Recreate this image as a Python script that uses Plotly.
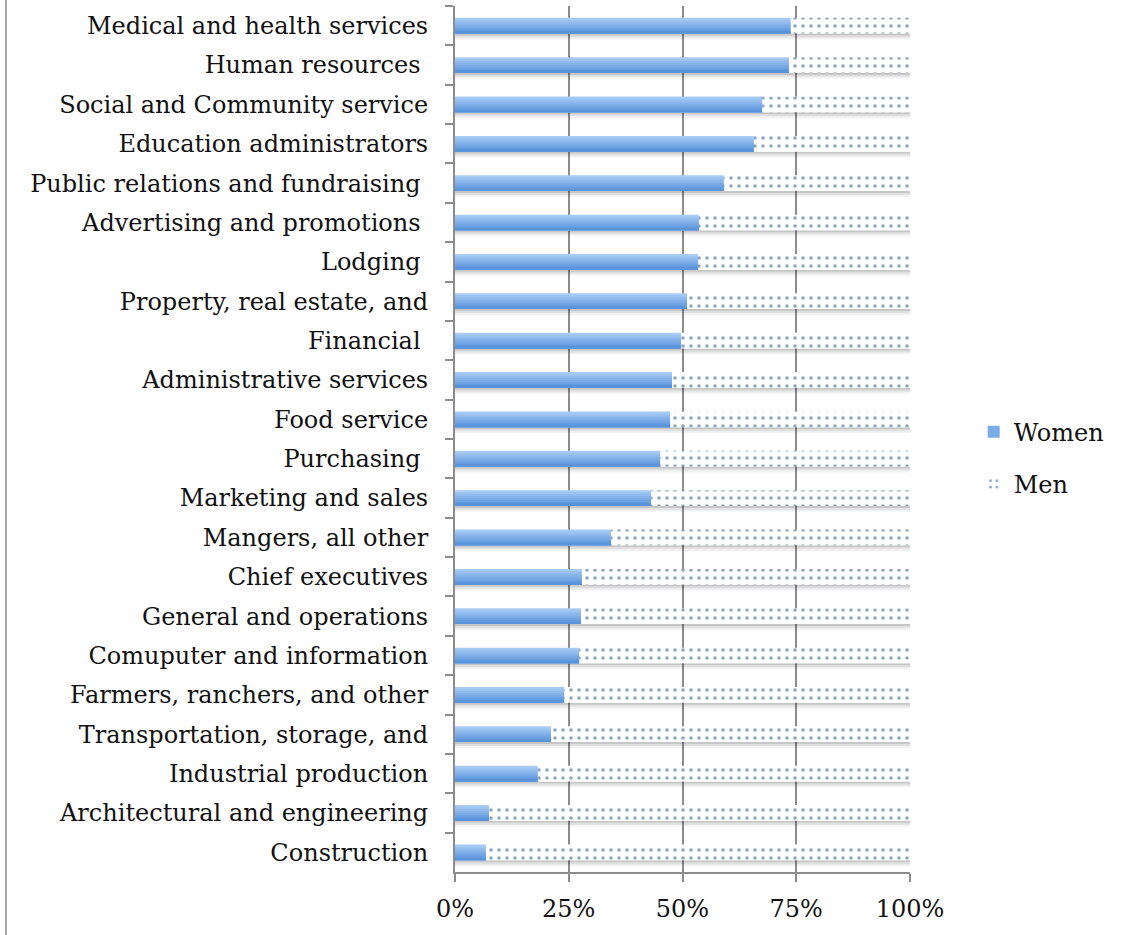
import plotly.graph_objects as go

# Occupation groups, top to bottom
categories = [
    "Medical and health services",
    "Human resources\u00a0",
    "Social and Community service",
    "Education administrators",
    "Public relations and fundraising\u00a0",
    "Advertising and promotions\u00a0",
    "Lodging\u00a0",
    "Property, real estate, and",
    "Financial\u00a0",
    "Administrative services",
    "Food service",
    "Purchasing\u00a0",
    "Marketing and sales",
    "Mangers, all other",
    "Chief executives",
    "General and operations",
    "Comuputer and information",
    "Farmers, ranchers, and other",
    "Transportation, storage, and",
    "Industrial production",
    "Architectural and engineering",
    "Construction",
]

# Share of women / men in each group (percent)
women = [73.8, 73.4, 67.5, 65.7, 59.1, 53.6, 53.4, 51.0, 49.7, 47.7, 47.3,
         45.1, 43.1, 34.3, 27.9, 27.7, 27.3, 24.0, 21.1, 18.2, 7.5, 6.8]
men = [26.2, 26.6, 32.5, 34.3, 40.9, 46.4, 46.6, 49.0, 50.3, 52.3, 52.7,
       54.9, 56.9, 65.7, 72.1, 72.3, 72.7, 76.0, 78.9, 81.8, 92.5, 93.2]

x_ticks = [0, 25, 50, 75, 100]
x_tick_labels = ["0%", "25%", "50%", "75%", "100%"]

FONT = "DejaVu Serif"
FONT_SIZE = 24
BAR_W = 0.40
TOP = -BAR_W / 2

totals = [w + m for w, m in zip(women, men)]

fig = go.Figure()

# soft drop shadow underneath each full bar
shadow_alphas = [0.22, 0.12, 0.05]
for i, a in enumerate(shadow_alphas):
    fig.add_trace(go.Bar(
        y=categories, x=totals, orientation="h",
        width=0.05, offset=BAR_W / 2 + i * 0.05,
        marker=dict(color=f"rgba(0,0,0,{a})", line=dict(width=0)),
        showlegend=False, hoverinfo="skip",
    ))

# Women: vertical gradient; each layer runs from its own top edge down to
# the bar's bottom, so successive (darker) layers overlap without seams
top_rgb = (168, 203, 245)
bot_rgb = (88, 147, 219)
n_strips = 8
strip_w = BAR_W / n_strips
for i in range(n_strips):
    t = i / (n_strips - 1)
    rgb = tuple(round(a + (b - a) * t) for a, b in zip(top_rgb, bot_rgb))
    fig.add_trace(go.Bar(
        y=categories, x=women, orientation="h",
        width=BAR_W - i * strip_w, offset=TOP + i * strip_w,
        marker=dict(color="rgb(%d,%d,%d)" % rgb, line=dict(width=0)),
        name="Women", legendgroup="Women",
        showlegend=False,
    ))

# legend swatch for Women
fig.add_trace(go.Bar(
    y=[categories[0]], x=[None], orientation="h",
    marker=dict(color="rgb(122,172,230)", line=dict(width=0)),
    name="Women", legendgroup="Women", showlegend=True,
))

# Men: dotted fill stacked after the women's share
fig.add_trace(go.Bar(
    y=categories, x=men, base=women, orientation="h",
    width=BAR_W, offset=TOP,
    marker=dict(
        color="white", line=dict(width=0),
        pattern=dict(shape=".", fgcolor="#174a8e", bgcolor="white",
                     size=8, solidity=0.16),
    ),
    name="Men", legendgroup="Men",
))

fig.update_layout(
    width=1133, height=935,
    margin=dict(l=455, r=223, t=6, b=63),
    barmode="overlay",
    paper_bgcolor="white", plot_bgcolor="white",
    font=dict(family=FONT, size=FONT_SIZE, color="#111111"),
    legend=dict(
        x=1.140, y=0.478, xanchor="left", yanchor="middle",
        font=dict(family=FONT, size=FONT_SIZE, color="#111111"),
        tracegroupgap=18, traceorder="grouped",
        itemwidth=30, bgcolor="rgba(0,0,0,0)",
    ),
    xaxis=dict(
        range=[0, 100], tickvals=x_ticks, ticktext=x_tick_labels,
        showgrid=True, gridcolor="#8c8c8c", gridwidth=1.5,
        showline=True, linecolor="#8c8c8c", linewidth=2,
        ticks="outside", ticklen=8, tickcolor="#8c8c8c", tickwidth=2,
        ticklabelstandoff=6,
        zeroline=False, fixedrange=True,
    ),
    yaxis=dict(
        categoryorder="array", categoryarray=categories,
        autorange="reversed",
        showline=True, linecolor="#8c8c8c", linewidth=2,
        ticks="outside", ticklen=8, tickcolor="#8c8c8c", tickwidth=2,
        tickson="boundaries", showgrid=False, ticklabelstandoff=20,
        fixedrange=True,
    ),
    shapes=[dict(
        type="line", xref="paper", yref="paper",
        x0=(6 - 455) / 455, x1=(6 - 455) / 455,
        y0=(872 - 935) / 866, y1=872 / 866,
        line=dict(color="#a6a6a6", width=2),
    )],
)

fig.write_html("out.html")
